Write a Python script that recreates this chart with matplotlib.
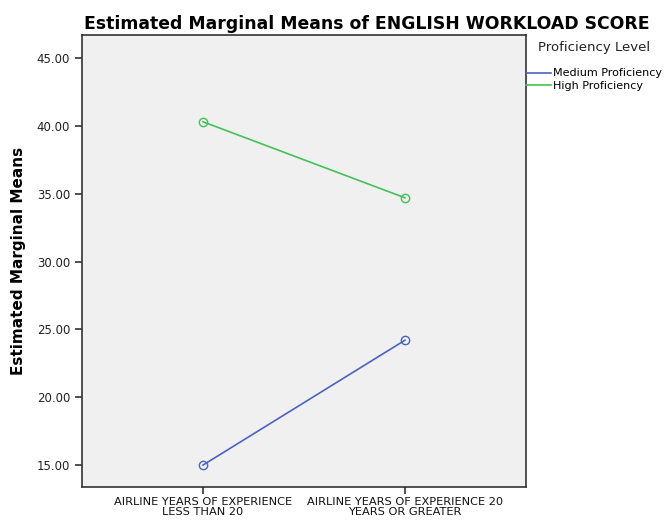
import matplotlib
matplotlib.use('Agg')
from matplotlib import pyplot as plt

categories = ['AIRLINE YEARS OF EXPERIENCE\nLESS THAN 20', 'AIRLINE YEARS OF EXPERIENCE 20\nYEARS OR GREATER']
medium = [15.0, 24.2]
high = [40.3, 34.7]
yticks = [15, 20, 25, 30, 35, 40, 45]

fig = plt.figure(figsize=(6.67, 5.23), dpi=100)
ax = fig.add_axes([0.1229, 0.0688, 0.6657, 0.8643])
ax.set_facecolor('#f0f0f0')

x = list(range(len(categories)))
ax.plot(x, medium, color='#4b63c4', lw=1.2, marker='o', ms=6, mfc='none', mew=1, label='Medium Proficiency')
ax.plot(x, high, color='#3fc455', lw=1.2, marker='o', ms=6, mfc='none', mew=1, label='High Proficiency')

ax.set_xlim(-0.6, 1.6)
ax.set_ylim(13.38, 46.7)
ax.set_xticks(x)
ax.set_xticklabels(categories, fontsize=8.2, color='#111111', linespacing=1.0)
ax.set_yticks(yticks)
ax.set_yticklabels(['%.2f' % v for v in yticks], fontsize=8.5, color='#222222')
ax.tick_params(direction='out', length=5, width=1.2, color='#333333')
ax.tick_params(axis='x', pad=2)
for s in ax.spines.values():
    s.set_color('#333333')
    s.set_linewidth(1.2)

ax.set_ylabel('Estimated Marginal Means', fontsize=11, fontweight='bold', labelpad=8)
fig.text(0.126, 0.955, 'Estimated Marginal Means of ENGLISH WORKLOAD SCORE', fontsize=12.4, fontweight='bold', ha='left', va='center')

# legend title placed on its own, indented like the original
fig.text(0.807, 0.910, 'Proficiency Level', fontsize=9.5, ha='left', va='center', color='#222222')
leg = ax.legend(loc='upper left', bbox_to_anchor=(1.0, 0.926), frameon=False, fontsize=8,
                handlelength=2.25, handletextpad=0.15, labelspacing=0.25,
                borderpad=0, borderaxespad=0)
for line in leg.get_lines():
    line.set_marker('')

fig.savefig('out.png', dpi=100)
